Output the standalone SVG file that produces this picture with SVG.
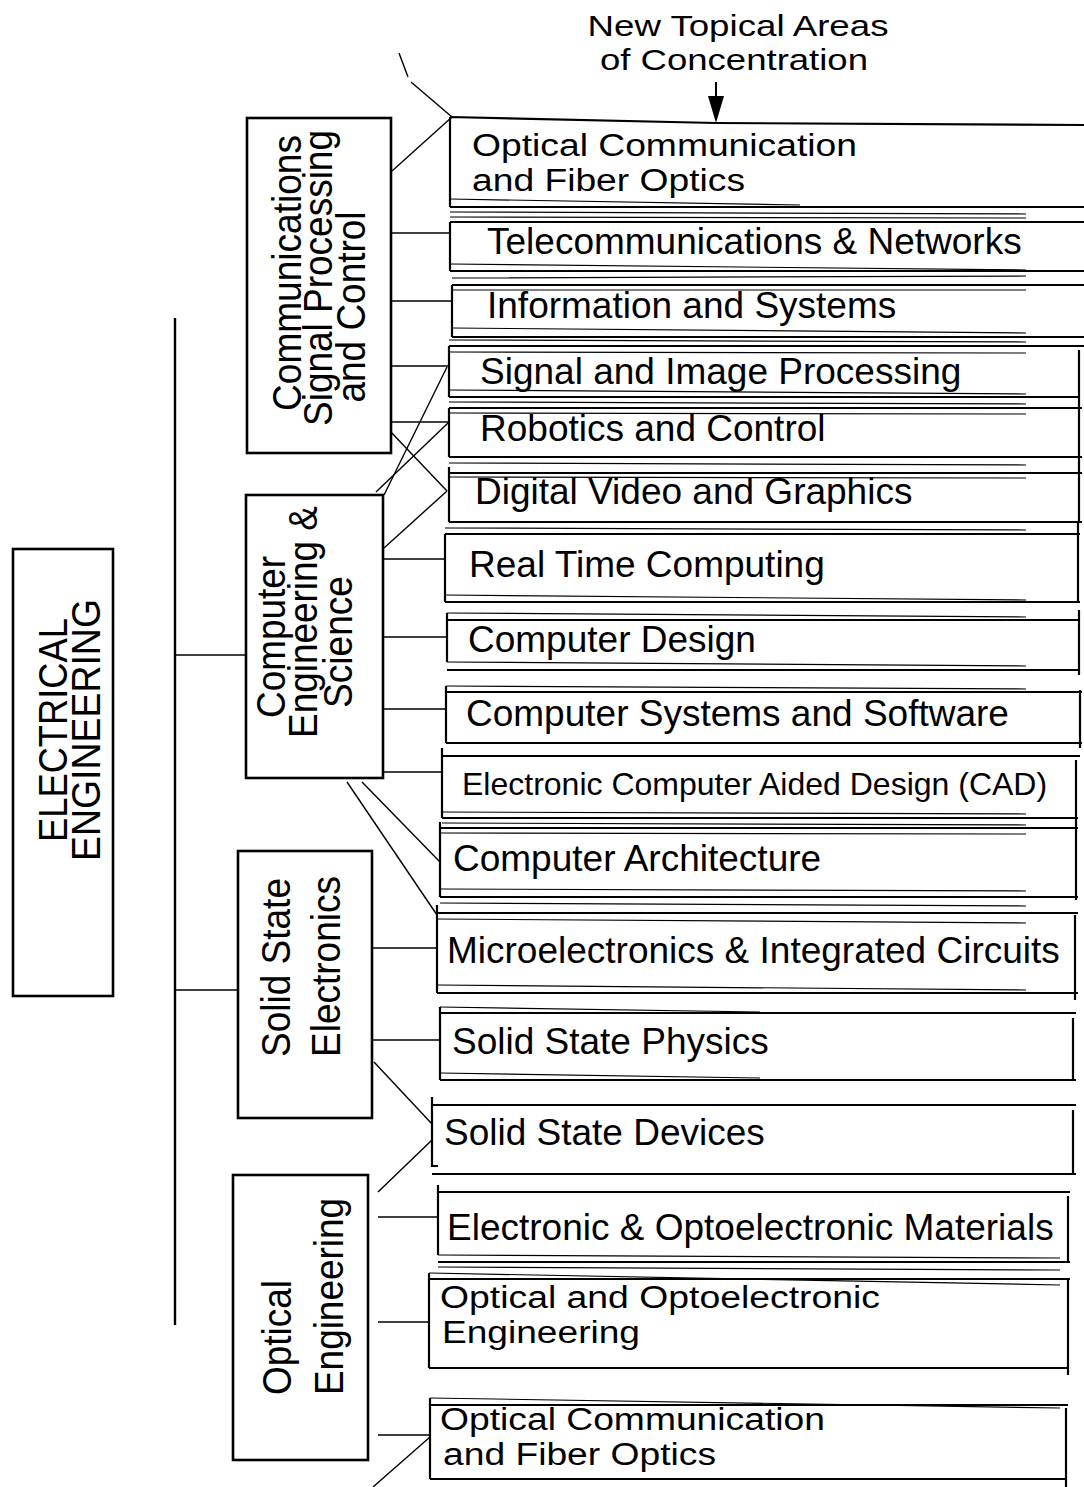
<svg xmlns="http://www.w3.org/2000/svg" width="1084" height="1487" viewBox="0 0 1084 1487">
  <style>
    .cat{fill:#fff;stroke:#000;stroke-width:2.6}
    .box{fill:none;stroke:#000;stroke-width:2.2}
    .ghost{fill:none;stroke:#000;stroke-width:1.2}
    .wire{fill:none;stroke:#000;stroke-width:1.4}
    .trunk{fill:none;stroke:#000;stroke-width:2.4}
    text{font-family:"Liberation Sans",Arial,Helvetica,sans-serif;fill:#000}
    .t{font-size:37px}
    .t2{font-size:31px}
    .ts{font-size:32px}
    .r{font-size:40px;text-anchor:middle}
    .rs{font-size:40px;text-anchor:start}
    .ee{font-size:40px;text-anchor:middle}
    .head{font-size:30px;text-anchor:middle}
  </style>
  <rect x="0" y="0" width="1084" height="1487" fill="#fff"/>

  <!-- heading and pointer -->
  <g id="heading">
    <text class="head" x="738" y="36" textLength="301" lengthAdjust="spacingAndGlyphs">New Topical Areas</text>
    <text class="head" x="734" y="70" textLength="268" lengthAdjust="spacingAndGlyphs">of Concentration</text>
    <line x1="716" y1="82" x2="716" y2="100" stroke="#000" stroke-width="2"/>
    <polygon points="708,96 724,96 716,123" fill="#000"/>
  </g>

  <!-- connectors -->
  <g id="connectors">
    <line class="trunk" x1="175" y1="318" x2="175" y2="1325"/>
    <line class="wire" x1="175" y1="655" x2="246" y2="655"/>
    <line class="wire" x1="175" y1="990" x2="238" y2="990"/>
    <!-- leader at top -->
    <line class="wire" x1="399" y1="53" x2="408" y2="77"/>
    <line class="wire" x1="411" y1="82" x2="452" y2="117"/>
    <line class="wire" x1="452" y1="117" x2="392" y2="171"/>
    <!-- communications branch -->
    <line class="wire" x1="392" y1="233" x2="450" y2="233"/>
    <line class="wire" x1="391" y1="301" x2="452" y2="301"/>
    <line class="wire" x1="389" y1="366" x2="448" y2="366"/>
    <line class="wire" x1="447" y1="367" x2="384" y2="495"/>
    <line class="wire" x1="386" y1="422" x2="448" y2="422"/>
    <line class="wire" x1="448" y1="423" x2="376" y2="492"/>
    <line class="wire" x1="389" y1="430" x2="447" y2="491"/>
    <!-- computer engineering branch -->
    <line class="wire" x1="447" y1="491" x2="384" y2="548"/>
    <line class="wire" x1="384" y1="559" x2="445" y2="559"/>
    <line class="wire" x1="382" y1="637" x2="447" y2="637"/>
    <line class="wire" x1="382" y1="709" x2="446" y2="709"/>
    <line class="wire" x1="381" y1="772" x2="442" y2="772"/>
    <line class="wire" x1="362" y1="782" x2="440" y2="862"/>
    <line class="wire" x1="347" y1="782" x2="437" y2="915"/>
    <!-- solid state branch -->
    <line class="wire" x1="373" y1="948" x2="437" y2="948"/>
    <line class="wire" x1="371" y1="1040" x2="440" y2="1040"/>
    <line class="wire" x1="374" y1="1062" x2="432" y2="1124"/>
    <!-- optical branch -->
    <line class="wire" x1="378" y1="1192" x2="432" y2="1140"/>
    <line class="wire" x1="378" y1="1217" x2="438" y2="1217"/>
    <line class="wire" x1="378" y1="1322" x2="429" y2="1322"/>
    <line class="wire" x1="378" y1="1435" x2="430" y2="1435"/>
    <line class="wire" x1="430" y1="1437" x2="373" y2="1487"/>
  </g>

  <!-- root -->
  <g id="electrical-engineering">
    <rect class="cat" x="13" y="549" width="100" height="447" stroke-width="3"/>
    <text class="ee" transform="translate(67,730) rotate(-90)" textLength="224" lengthAdjust="spacingAndGlyphs">ELECTRICAL</text>
    <text class="ee" transform="translate(100,730) rotate(-90)" textLength="262" lengthAdjust="spacingAndGlyphs">ENGINEERING</text>
  </g>

  <!-- discipline boxes -->
  <g id="communications">
    <rect class="cat" x="247" y="118" width="144" height="335"/>
    <text class="r" transform="translate(301,273) rotate(-90)" textLength="276" lengthAdjust="spacingAndGlyphs">Communications</text>
    <text class="r" transform="translate(332,278) rotate(-90)" textLength="296" lengthAdjust="spacingAndGlyphs">Signal Processing</text>
    <text class="r" transform="translate(365,307) rotate(-90)" textLength="191" lengthAdjust="spacingAndGlyphs">and Control</text>
  </g>
  <g id="computer-engineering">
    <rect class="cat" x="246" y="495" width="137" height="283"/>
    <text class="r" transform="translate(285,637) rotate(-90)" textLength="162" lengthAdjust="spacingAndGlyphs">Computer</text>
    <text class="r" transform="translate(317,622) rotate(-90)" textLength="232" lengthAdjust="spacingAndGlyphs">Engineering &amp;</text>
    <text class="r" transform="translate(352,642) rotate(-90)" textLength="132" lengthAdjust="spacingAndGlyphs">Science</text>
  </g>
  <g id="solid-state">
    <rect class="cat" x="238" y="851" width="134" height="267"/>
    <text class="rs" transform="translate(290,1057) rotate(-90)" textLength="179" lengthAdjust="spacingAndGlyphs">Solid State</text>
    <text class="rs" transform="translate(340,1057) rotate(-90)" textLength="181" lengthAdjust="spacingAndGlyphs">Electronics</text>
  </g>
  <g id="optical-engineering">
    <rect class="cat" x="233" y="1175" width="135" height="285"/>
    <text class="rs" transform="translate(291,1395) rotate(-90)" textLength="115" lengthAdjust="spacingAndGlyphs">Optical</text>
    <text class="rs" transform="translate(343,1395) rotate(-90)" textLength="197" lengthAdjust="spacingAndGlyphs">Engineering</text>
  </g>

  <!-- topical areas -->
  <g id="optical-communication-top">
    <path class="box" d="M450,117 L716,123 L1086,125 M450,117 L450,207 M450,207 L1086,207"/>
    <path class="ghost" d="M450,199 L800,205"/>
    <text class="t2" x="472" y="156" textLength="385" lengthAdjust="spacingAndGlyphs">Optical Communication</text>
    <text class="t2" x="472" y="191" textLength="273" lengthAdjust="spacingAndGlyphs">and Fiber Optics</text>
  </g>
  <g id="telecommunications">
    <path class="box" d="M450,222 L1086,222 M450,222 L450,271 M450,271 L1086,271"/>
    <path class="ghost" d="M450,212 L1026,214 M450,217 L1026,218 M450,264 L1026,270"/>
    <text class="t" x="487" y="254">Telecommunications &amp; Networks</text>
  </g>
  <g id="information-systems">
    <path class="box" d="M452,285 L1086,285 M452,285 L452,337 M452,337 L1086,337"/>
    <path class="ghost" d="M452,278 L1026,276 M452,290 L1026,290 M452,328 L1026,333"/>
    <text class="t" x="487" y="318">Information and Systems</text>
  </g>
  <g id="signal-image">
    <path class="box" d="M449,346 L1086,346 M449,346 L449,397 M449,397 L1080,397 M1079,350 L1079,397"/>
    <path class="ghost" d="M449,340 L1026,342 M449,352 L1026,353 M449,390 L1026,394"/>
    <text class="t" x="480" y="384">Signal and Image Processing</text>
  </g>
  <g id="robotics-control">
    <path class="box" d="M449,408 L1082,408 M449,408 L449,457 M449,457 L1082,457 M1079,397 L1079,457"/>
    <path class="ghost" d="M449,402 L1026,404 M449,413 L1026,414"/>
    <text class="t" x="480" y="441">Robotics and Control</text>
  </g>
  <g id="digital-video">
    <path class="box" d="M449,473 L1082,473 M449,467 L449,522 M449,522 L1082,522 M1079,457 L1079,522"/>
    <path class="ghost" d="M449,463 L1026,465 M449,477 L1026,478"/>
    <text class="t" x="475" y="504">Digital Video and Graphics</text>
  </g>
  <g id="real-time">
    <path class="box" d="M445,534 L1080,534 M445,534 L445,602 M445,602 L1080,602 M1078,522 L1078,602"/>
    <path class="ghost" d="M445,528 L1026,530 M445,595 L1026,600"/>
    <text class="t" x="469" y="577">Real Time Computing</text>
  </g>
  <g id="computer-design">
    <path class="box" d="M447,620 L1080,620 M447,613 L447,662 M447,670 L1080,670 M1079,610 L1079,675"/>
    <path class="ghost" d="M447,613 L1026,617 M447,662 L1026,666"/>
    <text class="t" x="468" y="652">Computer Design</text>
  </g>
  <g id="computer-systems">
    <path class="box" d="M446,692 L1082,692 M446,686 L446,743 M446,743 L1082,743 M1080,690 L1080,748"/>
    <path class="ghost" d="M446,686 L1026,689"/>
    <text class="t" x="466" y="726">Computer Systems and Software</text>
  </g>
  <g id="cad">
    <path class="box" d="M442,756 L1080,756 M442,748 L442,818 M442,818 L1078,818 M1076,760 L1076,826"/>
    <path class="ghost" d="M442,812 L1026,814 M442,823 L1026,825"/>
    <text class="ts" x="462" y="795">Electronic Computer Aided Design (CAD)</text>
  </g>
  <g id="computer-architecture">
    <path class="box" d="M440,828 L1078,828 M440,822 L440,897 M440,897 L1078,897 M1076,826 L1076,900"/>
    <path class="ghost" d="M440,833 L1026,834 M440,889 L1026,891 M440,903 L1026,906"/>
    <text class="t" x="453" y="871">Computer Architecture</text>
  </g>
  <g id="microelectronics">
    <path class="box" d="M437,913 L1078,913 M437,905 L437,993 M437,993 L1078,993 M1075,915 L1075,1000"/>
    <path class="ghost" d="M437,919 L1026,923 M437,985 L1026,990"/>
    <text class="t" x="447" y="963">Microelectronics &amp; Integrated Circuits</text>
  </g>
  <g id="solid-state-physics">
    <path class="box" d="M440,1013 L1076,1013 M440,1007 L440,1080 M440,1080 L1076,1080 M1073,1018 L1073,1080"/>
    <path class="ghost" d="M440,1007 L760,1012 M440,1073 L760,1078"/>
    <text class="t" x="452" y="1054">Solid State Physics</text>
  </g>
  <g id="solid-state-devices">
    <path class="box" d="M432,1105 L1076,1105 M432,1097 L432,1166 L438,1166 M432,1174 L1076,1174 M1073,1110 L1073,1174"/>
    <text class="t" x="444" y="1145">Solid State Devices</text>
  </g>
  <g id="optoelectronic-materials">
    <path class="box" d="M438,1192 L1070,1192 M438,1185 L438,1255 M438,1262 L1070,1262 M1068,1196 L1068,1262"/>
    <path class="ghost" d="M438,1255 L1060,1258 M438,1267 L1060,1270"/>
    <text class="t" x="447" y="1240">Electronic &amp; Optoelectronic Materials</text>
  </g>
  <g id="optoelectronic-engineering">
    <path class="box" d="M429,1279 L1070,1279 M429,1273 L429,1368 M429,1368 L1068,1368 M1068,1279 L1068,1375"/>
    <path class="ghost" d="M429,1273 L1060,1285"/>
    <text class="t2" x="440" y="1308" textLength="440" lengthAdjust="spacingAndGlyphs">Optical and Optoelectronic</text>
    <text class="t2" x="442" y="1343" textLength="198" lengthAdjust="spacingAndGlyphs">Engineering</text>
  </g>
  <g id="optical-communication-bottom">
    <path class="box" d="M430,1405 L1068,1405 M430,1398 L430,1479 M430,1479 L1066,1479 M1066,1408 L1066,1487"/>
    <path class="ghost" d="M430,1398 L1060,1408"/>
    <text class="t2" x="440" y="1430" textLength="385" lengthAdjust="spacingAndGlyphs">Optical Communication</text>
    <text class="t2" x="443" y="1465" textLength="273" lengthAdjust="spacingAndGlyphs">and Fiber Optics</text>
  </g>
</svg>
